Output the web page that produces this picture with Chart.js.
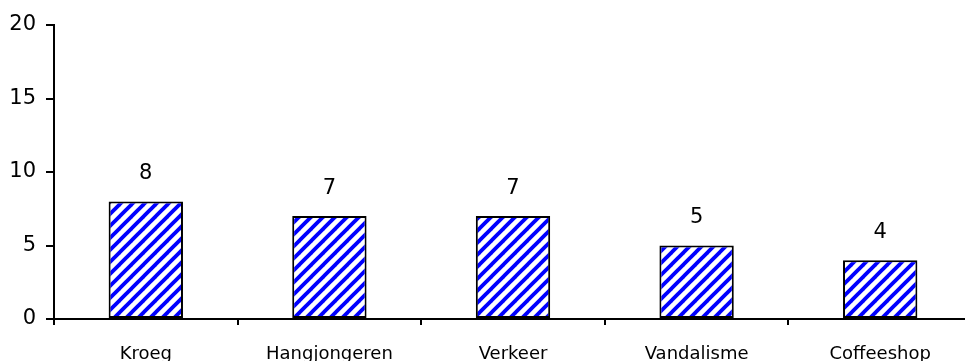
<!DOCTYPE html>
<html>
<head>
<meta charset="utf-8">
<script src="https://cdn.jsdelivr.net/npm/chart.js@4"></script>
<style>
  html, body { margin: 0; padding: 0; background: #fff; overflow: hidden; }
  #wrap { width: 965px; height: 361px; overflow: hidden; }
  #box { width: 972px; height: 361px; }
</style>
</head>
<body>
<div id="wrap"><div id="box"><canvas id="chart"></canvas></div></div>
<script>
const categories = ['Kroeg', 'Hangjongeren', 'Verkeer', 'Vandalisme', 'Coffeeshop'];
const values = [8, 7, 7, 5, 4];
const yTicks = [0, 5, 10, 15, 20];

// blue / white diagonal hatch
function hatch() {
  const p = 12;
  const c = document.createElement('canvas');
  c.width = p; c.height = p;
  const g = c.getContext('2d');
  g.fillStyle = '#fff';
  g.fillRect(0, 0, p, p);
  g.strokeStyle = '#0000ff';
  g.lineWidth = 3.8;
  [[-p / 2, p / 2, p / 2, -p / 2], [0, p, p, 0], [p / 2, p * 1.5, p * 1.5, p / 2]].forEach(l => {
    g.beginPath();
    g.moveTo(l[0], l[1]);
    g.lineTo(l[2], l[3]);
    g.stroke();
  });
  return g.createPattern(c, 'repeat');
}

const valueLabels = {
  id: 'valueLabels',
  afterDatasetsDraw(chart) {
    const ctx = chart.ctx;
    ctx.save();
    ctx.font = '21px "DejaVu Sans"';
    ctx.fillStyle = '#000';
    ctx.textAlign = 'center';
    ctx.textBaseline = 'middle';
    chart.getDatasetMeta(0).data.forEach((bar, i) => {
      ctx.fillText(values[i], bar.x, bar.y - 28);
    });
    ctx.restore();
  }
};

window.addEventListener('DOMContentLoaded', () => {
  const ctx = document.getElementById('chart').getContext('2d');
  new Chart(ctx, {
    type: 'bar',
    data: {
      labels: categories,
      datasets: [{
        data: values,
        backgroundColor: hatch(),
        borderColor: '#000',
        borderWidth: 2,
        borderSkipped: false,
        categoryPercentage: 1,
        barPercentage: 0.405
      }]
    },
    options: {
      responsive: true,
      maintainAspectRatio: false,
      animation: false,
      layout: { padding: { top: 25, left: 0, right: 0, bottom: 0 } },
      plugins: { legend: { display: false }, tooltip: { enabled: false } },
      scales: {
        x: {
          offset: true,
          grid: { offset: true, drawOnChartArea: false, color: '#000', lineWidth: 2, tickLength: 6 },
          border: { color: '#000', width: 2 },
          ticks: { color: '#000', font: { family: 'DejaVu Sans', size: 18 }, padding: 19, maxRotation: 0 },
          afterFit: s => { s.height = 42; }
        },
        y: {
          min: 0,
          max: 20,
          afterBuildTicks: s => { s.ticks = yTicks.map(v => ({ value: v })); },
          grid: { drawOnChartArea: false, color: '#000', lineWidth: 2, tickLength: 8 },
          border: { color: '#000', width: 2 },
          ticks: { color: '#000', font: { family: 'DejaVu Sans', size: 21 }, padding: 10 },
          afterFit: s => { s.width = 54; }
        }
      }
    },
    plugins: [valueLabels]
  });
});
</script>
</body>
</html>
